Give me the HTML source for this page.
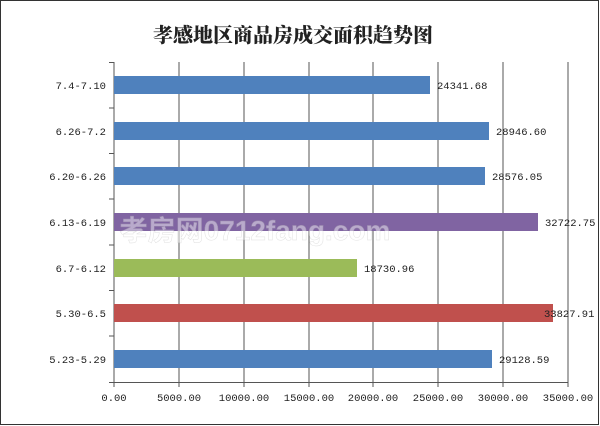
<!DOCTYPE html>
<html><head><meta charset="utf-8"><style>
body{margin:0;background:#fff;}
svg{display:block;font-family:"Liberation Mono","Noto Sans CJK SC",monospace;}
</style></head><body>
<svg width="600" height="426" xmlns="http://www.w3.org/2000/svg">
<rect x="0.5" y="0.5" width="598" height="424" fill="#fff" stroke="#333"/>
<text x="293" y="42" text-anchor="middle" font-family="'Noto Serif CJK SC','Noto Sans CJK SC',serif" font-weight="900" font-size="20" fill="#222">孝感地区商品房成交面积趋势图</text>
<g stroke="#555" stroke-width="1">
<line x1="179" y1="62" x2="179" y2="387"/><line x1="244" y1="62" x2="244" y2="387"/>
<line x1="309" y1="62" x2="309" y2="387"/><line x1="373" y1="62" x2="373" y2="387"/>
<line x1="438" y1="62" x2="438" y2="387"/><line x1="503" y1="62" x2="503" y2="387"/>
<line x1="568" y1="62" x2="568" y2="387"/>
<line x1="114" y1="62" x2="114" y2="387"/>
<line x1="109" y1="382.5" x2="568" y2="382.5"/>
<line x1="109" y1="62.5" x2="114" y2="62.5"/><line x1="109" y1="108" x2="114" y2="108"/>
<line x1="109" y1="153.5" x2="114" y2="153.5"/><line x1="109" y1="199" x2="114" y2="199"/>
<line x1="109" y1="245" x2="114" y2="245"/><line x1="109" y1="290.5" x2="114" y2="290.5"/>
<line x1="109" y1="336" x2="114" y2="336"/>
</g>
<g>
<rect x="114" y="76" width="316" height="18" fill="#4F81BD"/>
<rect x="114" y="122" width="375" height="18" fill="#4F81BD"/>
<rect x="114" y="167" width="371" height="18" fill="#4F81BD"/>
<rect x="114" y="213" width="424" height="18" fill="#8064A2"/>
<rect x="114" y="259" width="243" height="18" fill="#9BBB59"/>
<rect x="114" y="304" width="439" height="18" fill="#C0504D"/>
<rect x="114" y="350" width="378" height="18" fill="#4F81BD"/>
</g>
<text x="255" y="240" font-family="'Liberation Sans','Noto Sans CJK SC',sans-serif" font-size="28" font-weight="bold" fill="#fff" stroke="#bbb" stroke-width="0.5" opacity="0.45" text-anchor="middle">孝房网0712fang.com</text>
<g font-size="10.5" fill="#222">
<text x="437" y="89">24341.68</text>
<text x="496" y="135">28946.60</text>
<text x="492" y="180">28576.05</text>
<text x="545" y="226">32722.75</text>
<text x="364" y="272">18730.96</text>
<text x="544" y="317">33827.91</text>
<text x="499" y="363">29128.59</text>
</g>
<g font-size="10.5" fill="#222" text-anchor="end">
<text x="106" y="89">7.4-7.10</text>
<text x="106" y="135">6.26-7.2</text>
<text x="106" y="180">6.20-6.26</text>
<text x="106" y="226">6.13-6.19</text>
<text x="106" y="272">6.7-6.12</text>
<text x="106" y="317">5.30-6.5</text>
<text x="106" y="363">5.23-5.29</text>
</g>
<g font-size="10.5" fill="#222" text-anchor="middle">
<text x="114" y="401">0.00</text><text x="179" y="401">5000.00</text>
<text x="244" y="401">10000.00</text><text x="309" y="401">15000.00</text>
<text x="373" y="401">20000.00</text><text x="438" y="401">25000.00</text>
<text x="503" y="401">30000.00</text><text x="568" y="401">35000.00</text>
</g>
</svg>
</body></html>
